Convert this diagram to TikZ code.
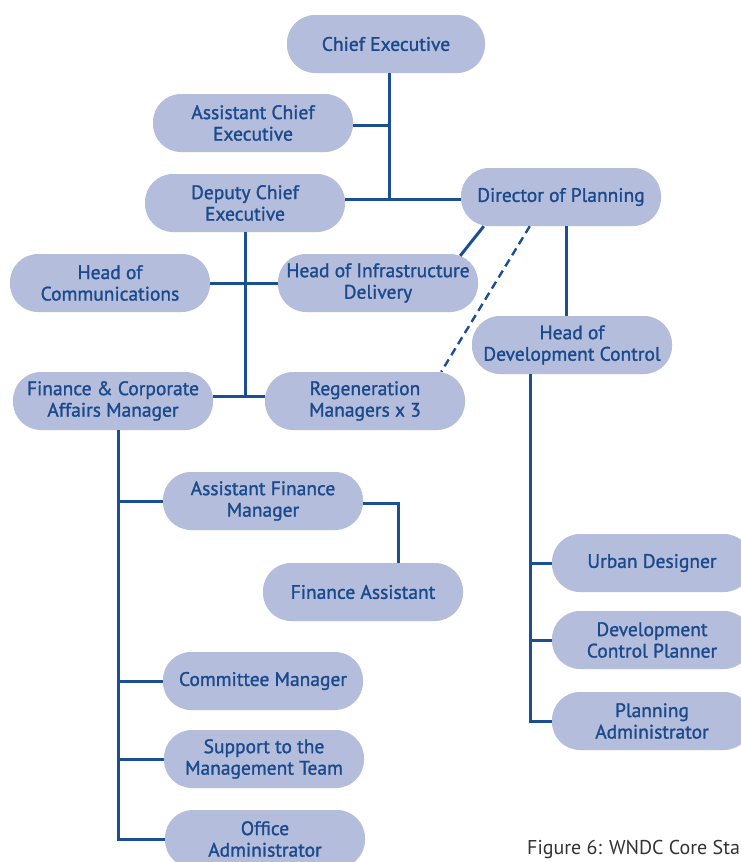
\documentclass[tikz,border=0pt]{standalone}
\usepackage{fontspec}
\setmainfont{PT Sans}
\newfontfamily\boxfont[FakeBold=1.3]{PT Sans}
\definecolor{boxfill}{HTML}{B4BDDC}
\definecolor{boxtext}{HTML}{1B4A8C}
\definecolor{linec}{HTML}{1B4F93}
\definecolor{captc}{HTML}{333333}
\tikzset{
  pill/.style={rectangle, rounded corners=28pt, fill=boxfill, minimum width=200pt, minimum height=58pt,
    inner sep=0pt, align=center, text=boxtext, font=\boxfont\fontsize{19.5}{21.5}\selectfont},
  conn/.style={draw=linec, line width=3pt},
  dconn/.style={draw=linec, line width=2.4pt, dash pattern=on 8pt off 5pt}
}
\begin{document}
\begin{tikzpicture}[x=1pt,y=-1pt]
\useasboundingbox (0,0) rectangle (741,862);
\clip (0,0) rectangle (741,862);
\fill[white] (0,0) rectangle (741,862);
% junction coordinates
\coordinate (j1) at (389,199);
\coordinate (j2) at (245,396);
\coordinate (j3) at (530,721);
\coordinate (j4) at (118,839);
% nodes
\node[pill, minimum width=198pt] (ce) at (386,44) {Chief Executive};
\node[pill] (ace) at (253,123) {Assistant Chief\\Executive};
\node[pill] (dce) at (245,203) {Deputy Chief\\Executive};
\node[pill] (dir) at (561,197) {Director of Planning};
\node[pill] (hoc) at (110,283) {Head of\\Communications};
\node[pill] (hid) at (378,283) {Head of Infrastructure\\Delivery};
\node[pill] (hdc) at (572,345) {Head of\\Development Control};
\node[pill] (fca) at (113,401) {Finance \& Corporate\\Affairs Manager};
\node[pill] (rm) at (365,401) {Regeneration\\Managers x 3};
\node[pill] (afm) at (263,501) {Assistant Finance\\Manager};
\node[pill] (fa) at (363,592) {Finance Assistant};
\node[pill] (cm) at (263,681) {Committee Manager};
\node[pill] (smt) at (264,759) {Support to the\\Management Team};
\node[pill] (oa) at (265,839) {Office\\Administrator};
\node[pill] (ud) at (652,563) {Urban Designer};
\node[pill] (dcp) at (652,640) {Development\\Control Planner};
\node[pill] (pa) at (652,721) {Planning\\Administrator};
% connectors
\draw[conn] (ce.south -| j1) -- (j1);
\draw[conn] (ace.east |- 0,125) -- (j1 |- 0,125);
\draw[conn] (dce.east |- j1) -- (dir.west |- j1);
\draw[conn] (dce.south) -- (j2);
\draw[conn] (hoc.east) -- (hid.west);
\draw[conn] (fca.east |- j2) -- (rm.west |- j2);
\draw[conn] ([xshift=23pt]dir.south west) -- ([xshift=-18pt,yshift=-2pt]hid.north east);
\draw[dconn] ([xshift=69pt]dir.south west) -- ([xshift=-24pt]rm.north east);
\draw[conn] ([xshift=5pt]dir.south) -- ([xshift=5pt]dir.south |- hdc.north);
\draw[conn] (hdc.south -| j3) -- (j3) -- (pa.west);
\draw[conn] (j3 |- ud.west) -- (ud.west);
\draw[conn] (j3 |- dcp.west) -- (dcp.west);
\draw[conn] (fca.south -| j4) -- (j4) -- (oa.west);
\draw[conn] (j4 |- afm.west) -- (afm.west);
\draw[conn] (j4 |- cm.west) -- (cm.west);
\draw[conn] (j4 |- smt.west) -- (smt.west);
\draw[conn] ([yshift=-2pt]afm.east) -| ([xshift=35pt]fa.north);
% caption
\node[anchor=base west, inner sep=0pt, text=captc, font=\fontsize{20}{22}\selectfont] (cap) at (527,854) {Figure 6: WNDC Core Sta};
\end{tikzpicture}
\end{document}
